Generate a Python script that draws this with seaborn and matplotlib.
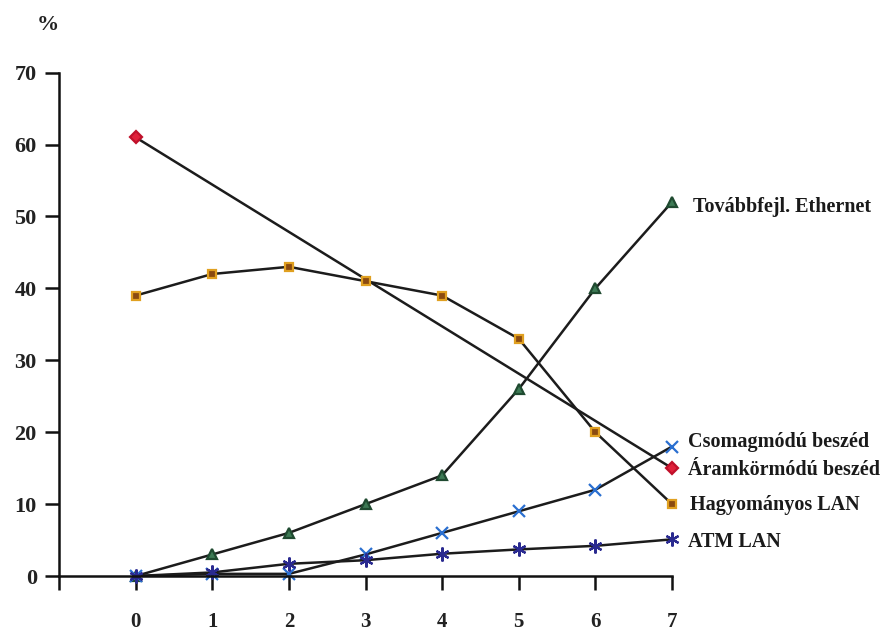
import pandas as pd
import seaborn as sns
from matplotlib import pyplot as plt

# years / steps on the x axis
steps = [0, 1, 2, 3, 4, 5, 6, 7]

# share of traffic [%]
aramkor = [61, 15]            # only end points were plotted
aramkor_steps = [0, 7]
hagyomanyos = [39, 42, 43, 41, 39, 33, 20, 10]
tovabbfejl = [0, 3, 6, 10, 14, 26, 40, 52]
csomag = [0, 0.3, 0.3, 3, 6, 9, 12, 18]
atm = [0, 0.5, 1.7, 2.2, 3.1, 3.7, 4.2, 5.1]

y_ticks = [0, 10, 20, 30, 40, 50, 60, 70]

sns.set_style('white')
plt.rcParams['font.family'] = ['Liberation Serif', 'DejaVu Serif']

fig = plt.figure(figsize=(8.93, 6.36), dpi=100)
ax = fig.add_axes([0.0661, 0.0943, 0.7525 - 0.0661, 0.7915])

line_col = '#1c1c1c'
series = [
    # name, x, y, marker, face, edge, size, label x, label y
    ('Továbbfejl. Ethernet', steps, tovabbfejl, '^', '#3d7a55', '#1f4a30', 7, 7.27, 51.3),
    ('Csomagmódú beszéd', steps, csomag, 'x', '#2a6fd0', '#2a6fd0', 8, 7.21, 18.6),
    ('Áramkörmódú beszéd', aramkor_steps, aramkor, 'D', '#e0203a', '#c0102a', 6.5, 7.21, 14.7),
    ('Hagyományos LAN', steps, hagyomanyos, 's', '#8a4a10', '#e0a020', 6, 7.23, 9.9),
    ('ATM LAN', steps, atm, (6, 2, 0), '#2a2a90', '#2a2a90', 10, 7.21, 4.7),
]

for name, xs, ys, mk, fc, ec, ms, lx, ly in series:
    df = pd.DataFrame({'x': xs, 'y': ys})
    sns.lineplot(data=df, x='x', y='y', ax=ax, color=line_col, linewidth=1.8,
                 marker=mk, markersize=ms, markerfacecolor=fc,
                 markeredgecolor=ec, markeredgewidth=1.6, clip_on=False)
    ax.text(lx, ly, name, fontsize=14.5, fontweight='bold', va='center',
            ha='left', color='#1a1a1a', clip_on=False)

ax.set_xlim(-1, 7)
ax.set_ylim(0, 70)
ax.set_xticks([-1] + steps)
ax.set_xticklabels([''] + [str(s) for s in steps])
ax.set_yticks(y_ticks)
ax.set_yticklabels([str(v) for v in y_ticks])
ax.set_xlabel('')
ax.set_ylabel('')

for side in ['top', 'right']:
    ax.spines[side].set_visible(False)
for side in ['left', 'bottom']:
    ax.spines[side].set_linewidth(1.8)
    ax.spines[side].set_color('#111111')

ax.tick_params(axis='both', direction='out', length=10, width=1.8,
               color='#111111', labelcolor='#222222',
               bottom=True, left=True)
ax.tick_params(axis='x', pad=16, labelsize=15)
ax.tick_params(axis='y', pad=6, labelsize=16)
for lab in ax.get_xticklabels() + ax.get_yticklabels():
    lab.set_fontweight('bold')

fig.text(0.054, 0.96, '%', fontsize=16, fontweight='bold', ha='center',
         va='center', color='#222222')

fig.savefig('out.png', dpi=100, facecolor='white')
